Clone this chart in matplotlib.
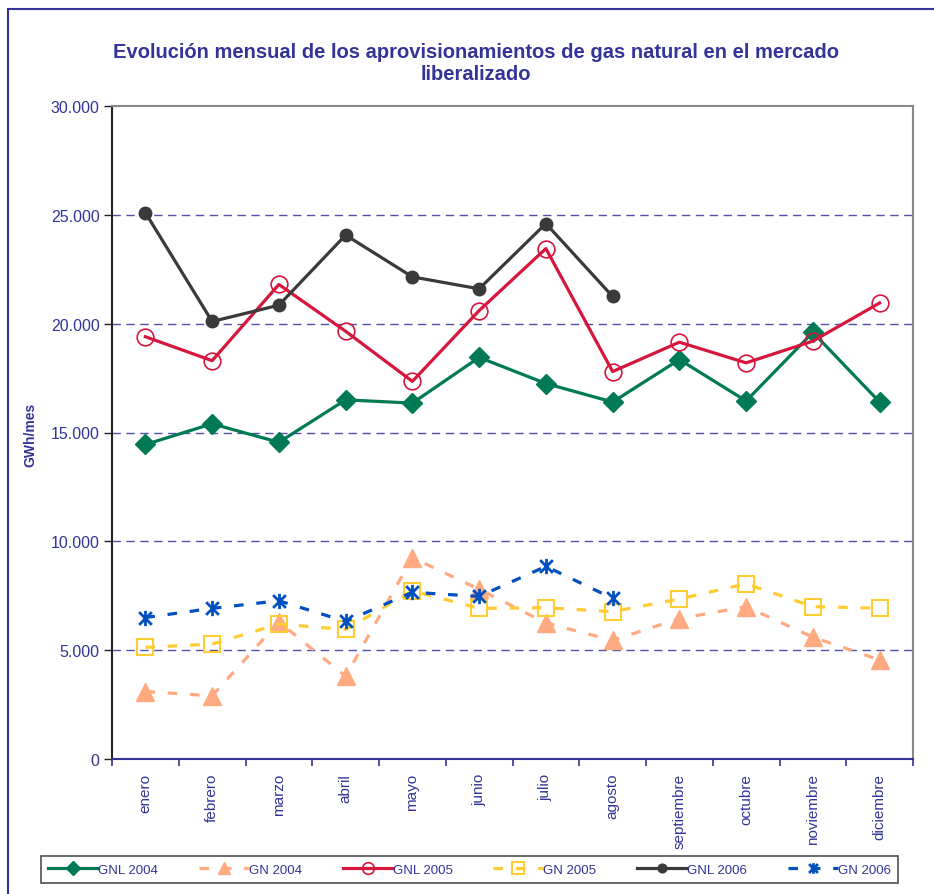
import matplotlib
matplotlib.use("Agg")
import matplotlib.pyplot as plt
from matplotlib.ticker import FuncFormatter, FixedLocator
from matplotlib.lines import Line2D
from matplotlib.path import Path
import numpy as np

plt.rcParams['font.family'] = ['Liberation Sans', 'DejaVu Sans']

months = ["enero", "febrero", "marzo", "abril", "mayo", "junio", "julio",
          "agosto", "septiembre", "octubre", "noviembre", "diciembre"]

gnl_2004 = [14450, 15400, 14550, 16500, 16350, 18450, 17250, 16400, 18350, 16450, 19600, 16400]
gn_2004 = [3100, 2900, 6300, 3800, 9250, 7800, 6250, 5450, 6450, 7000, 5600, 4550]
gnl_2005 = [19400, 18300, 21800, 19650, 17350, 20600, 23450, 17800, 19150, 18200, 19200, 20950]
gn_2005 = [5130, 5280, 6200, 5950, 7730, 6920, 6950, 6770, 7350, 8050, 7000, 6930]
gnl_2006 = [25100, 20100, 20850, 24070, 22150, 21600, 24600, 21250]
gn_2006 = [6500, 6920, 7270, 6320, 7660, 7470, 8850, 7380]

NAVY = '#333399'

# Excel-style star marker: an X plus a vertical bar
star = Path([(-0.5, -0.5), (0.5, 0.5), (-0.5, 0.5), (0.5, -0.5), (0, -0.6), (0, 0.6)],
            [Path.MOVETO, Path.LINETO, Path.MOVETO, Path.LINETO, Path.MOVETO, Path.LINETO])

fig = plt.figure(figsize=(9.34, 8.95), dpi=100)
ax = fig.add_axes([112/934, 1-760/895, (913-112)/934, (760-107)/895])

x = np.arange(len(months))
x6 = np.arange(len(gnl_2006))

dash = (0, (3, 4))
ax.plot(x, gnl_2004, color='#007a55', lw=2.3, marker='D', ms=10.5,
        mfc='#007a55', mec='#007a55', label='GNL 2004', zorder=3)
ax.plot(x, gn_2004, color='#ffaa80', lw=2.3, ls=dash, dash_capstyle='butt', marker='^', ms=13,
        mfc='#ffaa80', mec='#ffaa80', label='GN 2004', zorder=3)
ax.plot(x, gnl_2005, color='#d6163c', lw=2.3, marker='o', ms=12,
        mfc='none', mec='#d6163c', mew=1.2, label='GNL 2005', zorder=3)
ax.plot(x, gn_2005, color='#ffcc33', lw=2.3, ls=dash, dash_capstyle='butt', marker='s', ms=12,
        mfc='none', mec='#ffcc33', mew=1.5, label='GN 2005', zorder=3)
ax.plot(x6, gnl_2006, color='#3a3a3a', lw=2.3, marker='o', ms=9,
        mfc='#3a3a3a', mec='#3a3a3a', label='GNL 2006', zorder=3)
ax.plot(x6, gn_2006, color='#0050c0', lw=2.3, ls=dash, dash_capstyle='butt', marker=star, ms=11,
        mfc='#0050c0', mec='#0050c0', mew=2, label='GN 2006', zorder=3)

ax.set_xlim(-0.5, len(months) - 0.5)
ax.set_ylim(0, 30000)
ax.set_yticks(np.arange(0, 30001, 5000))
ax.yaxis.set_major_formatter(FuncFormatter(lambda v, p: "0" if v == 0 else f"{int(v):,}".replace(",", ".")))
for yv in range(5000, 30000, 5000):
    ax.axhline(yv, color='#5050a8', lw=1, ls=(0, (6, 4)), zorder=1)

ax.set_xticks(x)
ax.set_xticklabels(months, rotation=90, color=NAVY, fontsize=11, va='top')
ax.xaxis.set_minor_locator(FixedLocator(np.arange(-0.5, len(months))))
ax.tick_params(axis='x', which='major', length=0, pad=10)
ax.tick_params(axis='x', which='minor', length=5, color=NAVY, width=1.2, direction='out')
ax.tick_params(axis='y', length=6, color='#222222', width=1, direction='out',
               labelsize=11.5, labelcolor=NAVY, pad=3)

ax.spines['left'].set_color('#222222')
ax.spines['left'].set_linewidth(1.5)
ax.spines['bottom'].set_color(NAVY)
ax.spines['bottom'].set_linewidth(1.5)
for s in ['top', 'right']:
    ax.spines[s].set_color('#888888')
    ax.spines[s].set_linewidth(1.5)

fig.text(30/934, 1-435/895, 'GWh/mes', rotation=90, ha='center', va='center',
         fontsize=10, fontweight='bold', color=NAVY)

fig.text(476/934, 1-63/895,
         'Evolución mensual de los aprovisionamientos de gas natural en el mercado\nliberalizado',
         ha='center', va='center', fontsize=14.5, fontweight='bold', color=NAVY,
         linespacing=1.2)

leg = fig.legend(loc='lower left', bbox_to_anchor=(41/934, 1-884/895, (898-41)/934, (884-853)/895),
                 ncol=6, mode='expand', fontsize=9.5, frameon=True, fancybox=False,
                 handlelength=3.8, handletextpad=0.0, borderaxespad=0, borderpad=0.55,
                 markerscale=0.7, labelcolor=NAVY)
leg.get_frame().set_edgecolor('#222222')
leg.get_frame().set_linewidth(1.2)

# outer border of the chart
fig.add_artist(Line2D([8/934, 8/934], [0, 1-10/895], color=NAVY, lw=1.5, transform=fig.transFigure))
fig.add_artist(Line2D([8/934, 1], [1-10/895, 1-10/895], color=NAVY, lw=1.5, transform=fig.transFigure))

fig.savefig('out.png', dpi=100)
